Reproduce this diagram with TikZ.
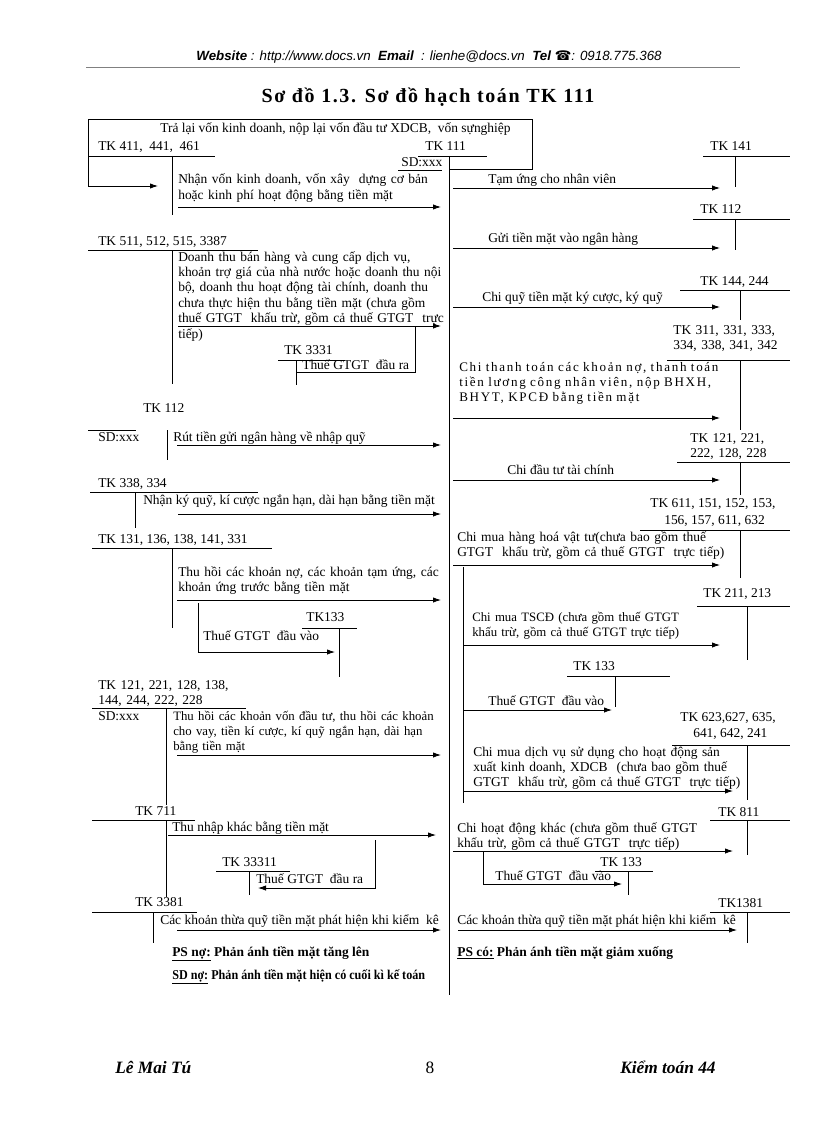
\documentclass[tikz,border=0pt]{standalone}
\usepackage{fontspec}
\usepackage{graphicx}
\setmainfont{Liberation Serif}
\newfontfamily\hdrfont{Liberation Sans}
\newfontfamily\symfont{DejaVu Sans}
\newfontfamily\spacedfont[LetterSpace=13]{Liberation Serif}
\newfontfamily\titlefont[LetterSpace=8]{Liberation Serif}
\usetikzlibrary{arrows.meta}
\tikzset{
  tl/.style={line width=0.6pt},
  arr/.style={line width=0.6pt,-{Latex[length=6pt,width=4pt]}},
  tx/.style={anchor=base west,inner sep=0pt,font=\fontsize{10.1}{11.6}\selectfont},
  txm/.style={anchor=base west,inner sep=0pt,font=\fontsize{10.1}{11.6}\selectfont,text width=300pt,align=left},
  txn/.style={anchor=base west,inner sep=0pt,font=\fontsize{9.6}{11.6}\selectfont,text width=300pt,align=left},
  txs/.style={anchor=base west,inner sep=0pt,font=\spacedfont\fontsize{9.8}{11.6}\selectfont,text width=300pt,align=left},
  txb/.style={anchor=base west,inner sep=0pt,font=\bfseries\fontsize{10.1}{11.6}\selectfont},
}
\begin{document}
\begin{tikzpicture}[x=0.75pt,y=-0.75pt]
\useasboundingbox (0,0) rectangle (816,1123);
% header
\node[anchor=base,inner sep=0pt,font=\hdrfont\itshape\fontsize{10}{12}\selectfont] (hdr) at (429,61)
  {\textbf{Website} : http://www.docs.vn \ \textbf{Email} \ : lienhe@docs.vn \ \textbf{Tel} {\symfont\upshape ☎}: 0918.775.368};
\draw[line width=0.4pt,gray] (86,67) -- (740,67);
\node[anchor=base,inner sep=0pt,font=\titlefont\bfseries\fontsize{15}{17}\selectfont] (title) at (428,103) {Sơ đồ 1.3. Sơ đồ hạch toán TK 111};

% central TK 111
\node[tx] (tk111) at (425,151) {TK 111};
\draw[tl] (418,156) -- (487,156);
\draw[tl] (449,156) -- (449,995);
\node[tx] (sd111) at (401,167) {SD:xxx};
\draw[tl] (398,170) -- (442,170);

% top return box
\node[tx] (t0) at (160,133) {Trả lại vốn kinh doanh, nộp lại vốn đầu tư XDCB,\ \ vốn sựnghiệp};
\draw[arr] (449,169) -- (532,169) -- (532,119) -- (88,119) -- (88,186) -- (158,186);

% ===== LEFT =====
\node[tx] (tk411) at (98,151) {TK 411,\ \ 441,\ \ 461};
\draw[tl] (88,156) -- (215,156);
\draw[tl] (172,156) -- (172,215);
\node[txm] (l1) at (178,184) {Nhận vốn kinh doanh, vốn xây\ \ dựng cơ bản\\hoặc kinh phí hoạt động bằng tiền mặt};
\draw[arr] (178,207) -- (441,207);

\node[tx] (tk511) at (98,245) {TK 511, 512, 515, 3387};
\draw[tl] (88,250) -- (258,250);
\draw[tl] (172,250) -- (172,384);
\node[txm] (l2) at (178,261) {Doanh thu bán hàng và cung cấp dịch vụ,\\khoản trợ giá của nhà nước hoặc doanh thu nội\\bộ, doanh thu hoạt động tài chính, doanh thu\\chưa thực hiện thu bằng tiền mặt (chưa gồm\\thuế GTGT\ \ khấu trừ, gồm cả thuế GTGT\ \ trực\\tiếp)};
\draw[arr] (178,326) -- (441,326);
\draw[tl] (415,326) -- (415,372) -- (296,372);
\node[tx] (tk3331) at (284,354) {TK 3331};
\draw[tl] (278,360) -- (345,360);
\draw[tl] (296,360) -- (296,385);
\node[tx] (l2b) at (302,369) {Thuế GTGT\ \ đầu ra};

\node[tx] (tk112l) at (143,412) {TK 112};
\draw[tl] (88,430) -- (136,430);
\draw[tl] (167,430) -- (167,460);
\node[tx] (sd112) at (98,441) {SD:xxx};
\node[tx] (l3) at (173,441) {Rút tiền gửi ngân hàng về nhập quỹ};
\draw[arr] (177,445) -- (441,445);

\node[tx] (tk338) at (98,487) {TK 338,\ 334};
\draw[tl] (90,492) -- (258,492);
\draw[tl] (135,492) -- (135,528);
\node[tx] (l4) at (143,504) {Nhận ký\ quỹ, kí\ cược ngắn hạn, dài hạn bằng tiền mặt};
\draw[arr] (178,514) -- (441,514);

\node[tx] (tk131) at (98,543) {TK 131, 136, 138, 141, 331};
\draw[tl] (92,548) -- (272,548);
\draw[tl] (172,548) -- (172,628);
\node[txm] (l5) at (178,576) {Thu hồi các khoản nợ, các khoản tạm ứng, các\\khoản ứng trước bằng tiền mặt};
\draw[arr] (177,600) -- (441,600);
\draw[arr] (198,603) -- (198,652) -- (335,652);
\node[tx] (tk133l) at (306,621) {TK133};
\draw[tl] (302,628) -- (357,628);
\draw[tl] (339,628) -- (339,677);
\node[tx] (l5b) at (203,640) {Thuế GTGT\ \ đầu vào};

\node[txm] (tk121l) at (98,689) {TK 121, 221, 128, 138,\\144, 244, 222, 228};
\draw[tl] (92,708) -- (246,708);
\draw[tl] (166,708) -- (166,805);
\node[tx] (sd121) at (98,720) {SD:xxx};
\node[txn] (l6) at (173,720) {Thu hồi các khoản vốn đầu tư, thu hồi các khoản\\cho vay, tiền kí\ cược, kí quỹ ngắn hạn, dài hạn\\bằng tiền mặt};
\draw[arr] (177,755) -- (441,755);

\node[tx] (tk711) at (135,815) {TK 711};
\draw[tl] (92,820) -- (195,820);
\draw[tl] (166,820) -- (166,897);
\node[tx] (l7) at (172,831) {Thu nhập khác bằng tiền mặt};
\draw[arr] (168,835) -- (436,835);
\draw[arr] (375,840) -- (375,888) -- (258,888);
\node[tx] (tk33311) at (222,866) {TK 33311};
\draw[tl] (216,871) -- (290,871);
\draw[tl] (249,871) -- (249,895);
\node[tx] (l7b) at (256,883) {Thuế GTGT\ \ đầu ra};

\node[tx] (tk3381) at (135,906) {TK 3381};
\draw[tl] (92,912) -- (197,912);
\draw[tl] (153,912) -- (153,943);
\node[tx] (l8) at (160,924) {Các khoản thừa quỹ tiền mặt phát hiện khi kiểm\ \ kê};
\draw[arr] (177,930) -- (441,930);

\node[txb] (psno) at (172,956) {\underline{PS nợ:} Phản ánh\ tiền mặt\ tăng lên};
\node[txb] (sdno) at (172,979) {\scalebox{0.9}[1]{\underline{SD nợ:} Phản ánh tiền mặt hiện có cuối kì kế toán}};

% ===== RIGHT =====
\node[tx] (tk141) at (710,151) {TK 141};
\draw[tl] (703,156) -- (790,156);
\draw[tl] (735,156) -- (735,187);
\node[tx] (r1) at (488,184) {Tạm ứng cho nhân viên};
\draw[arr] (453,188) -- (720,188);

\node[tx] (tk112r) at (700,214) {TK 112};
\draw[tl] (693,219) -- (790,219);
\draw[tl] (735,219) -- (735,250);
\node[tx] (r2) at (488,243) {Gửi tiền mặt vào ngân hàng};
\draw[arr] (453,248) -- (720,248);

\node[tx] (tk144) at (700,285) {TK 144,\ 244};
\draw[tl] (680,290) -- (790,290);
\draw[tl] (740,290) -- (740,320);
\node[tx] (r3) at (482,301) {Chi quỹ tiền mặt ký cược, ký quỹ};
\draw[arr] (453,307) -- (720,307);

\node[txm] (tk311) at (673,334) {TK 311, 331, 333,\\334, 338, 341, 342};
\draw[tl] (667,360) -- (790,360);
\draw[tl] (740,360) -- (740,430);
\node[txs] (r4) at (459,371) {Chi thanh toán các khoản nợ, thanh toán\\tiền lương công nhân viên, nộp BHXH,\\BHYT, KPCĐ bằng tiền mặt};
\draw[arr] (453,418) -- (720,418);

\node[txm] (tk121r) at (690,442) {TK 121, 221,\\222, 128, 228};
\draw[tl] (677,462) -- (790,462);
\draw[tl] (740,462) -- (740,495);
\node[tx] (r5) at (507,474) {Chi\ đầu tư tài chính};
\draw[arr] (453,480) -- (720,480);

\node[tx] (tk611a) at (650,507) {TK 611, 151, 152, 153,};
\node[tx] (tk611b) at (664,524) {156, 157, 611, 632};
\draw[tl] (640,530) -- (790,530);
\draw[tl] (740,530) -- (740,578);
\node[txm] (r6) at (457,541) {Chi mua hàng hoá vật tư(chưa bao gồm thuế\\GTGT\ \ khấu trừ, gồm cả thuế GTGT\ \ trực tiếp)};
\draw[arr] (453,565) -- (720,565);
\draw[tl] (463,567) -- (463,803);

\node[tx] (tk211) at (703,597) {TK 211,\ 213};
\draw[tl] (697,606) -- (790,606);
\draw[tl] (747,606) -- (747,660);
\node[txn] (r7) at (472,621) {Chi mua TSCĐ\ (chưa gồm thuế GTGT\\khấu trừ, gồm cả thuế GTGT\ trực tiếp)};
\draw[arr] (463,645) -- (720,645);

\node[tx] (tk133m) at (573,670) {TK 133};
\draw[tl] (567,676) -- (670,676);
\draw[tl] (615,676) -- (615,707);
\node[tx] (r7b) at (488,705) {Thuế GTGT\ \ đầu\ vào};
\draw[arr] (463,710) -- (612,710);

\node[tx] (tk623a) at (680,721) {TK 623,627,\ 635,};
\node[tx] (tk623b) at (693,737) {641,\ 642,\ 241};
\draw[tl] (672,745) -- (790,745);
\draw[tl] (747,745) -- (747,800);
\node[txm] (r8) at (473,756) {Chi mua dịch vụ sử dụng cho hoạt động sản\\xuất\ kinh doanh, XDCB\ \ (chưa bao gồm thuế\\GTGT\ \ khấu trừ, gồm cả thuế GTGT\ \ trực tiếp)};
\draw[arr] (463,791) -- (733,791);

\node[tx] (tk811) at (718,816) {TK 811};
\draw[tl] (710,820) -- (790,820);
\draw[tl] (747,820) -- (747,855);
\node[txm] (r9) at (457,832) {Chi hoạt động khác (chưa gồm thuế GTGT\\khấu trừ, gồm cả thuế GTGT\ \ trực tiếp)};
\draw[arr] (453,851) -- (733,851);
\draw[arr] (483,851) -- (483,884) -- (622,884);
\node[tx] (tk133r) at (600,866) {TK 133};
\draw[tl] (595,871) -- (653,871);
\draw[tl] (628,871) -- (628,895);
\node[tx] (r9b) at (495,880) {Thuế GTGT\ \ đầu vào};

\node[tx] (tk1381) at (718,907) {TK1381};
\draw[tl] (710,912) -- (790,912);
\draw[tl] (747,912) -- (747,943);
\node[tx] (r10) at (457,924) {Các khoản thừa quỹ tiền mặt phát hiện khi kiểm\ \ kê};
\draw[arr] (458,930) -- (737,930);
\node[txb] (psco) at (457,956) {\underline{PS có:} Phản ánh\ tiền mặt\ giảm xuống};

% footer
\node[anchor=base west,inner sep=0pt,font=\bfseries\itshape\fontsize{13}{15}\selectfont] (ft1) at (115,1073) {Lê Mai Tú};
\node[anchor=base,inner sep=0pt,font=\fontsize{13}{15}\selectfont] (ft2) at (430,1073) {8};
\node[anchor=base west,inner sep=0pt,font=\bfseries\itshape\fontsize{13}{15}\selectfont] (ft3) at (620,1073) {Kiểm toán 44};
\end{tikzpicture}
\end{document}
